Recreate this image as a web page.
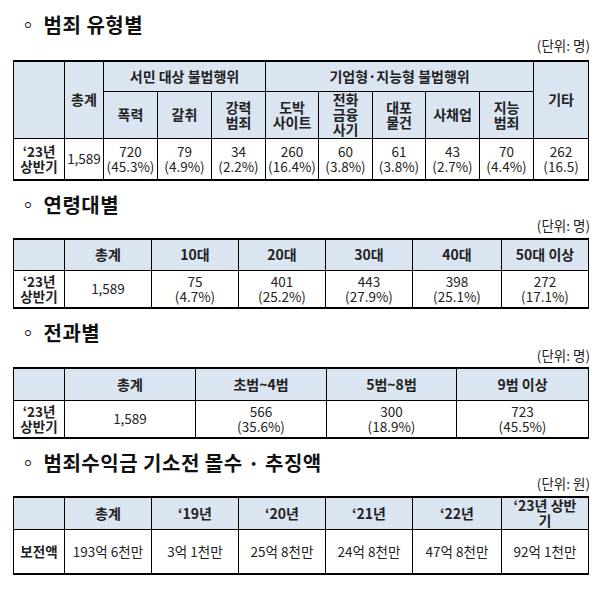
<!DOCTYPE html>
<html><head><meta charset="utf-8">
<script src="https://cdn.jsdelivr.net/npm/chart.js"></script>
<style>
body{margin:0;width:608px;height:605px;background:#fff;font-family:"Noto Sans CJK KR",sans-serif;position:relative;overflow:hidden}
.t{position:absolute;left:18px;font-size:20px;line-height:28px;font-weight:bold;color:#111;letter-spacing:0.5px}
.u{position:absolute;right:18px;font-size:13.5px;line-height:18px;color:#222}
table{position:absolute;left:13px;border-collapse:collapse;table-layout:fixed;border-top:2px solid #000;border-bottom:2px solid #000}
td{border:1px solid #000;text-align:center;vertical-align:middle;padding:0;font-size:13.5px;line-height:15px;color:#222}
td.h{background:#dbe5f1;font-weight:bold;color:#222;font-size:14px}
td.r{font-weight:bold}
</style></head><body>
<div class="t" style="top:11px">◦ 범죄 유형별</div><div class="u" style="top:36px">(단위: 명)</div>
<div class="t" style="top:191px">◦ 연령대별</div><div class="u" style="top:216px">(단위: 명)</div>
<div class="t" style="top:319px">◦ 전과별</div><div class="u" style="top:346px">(단위: 명)</div>
<div class="t" style="top:449px">◦ 범죄수익금 기소전 몰수 · 추징액</div><div class="u" style="top:474px">(단위: 원)</div>
<div id="root"></div>
<script>
const rowLabel = "‘23년<br>상반기";
const typeGroups = ["서민 대상 불법행위","기업형·지능형 불법행위"];
const typeCats = ["폭력","갈취","강력<br>범죄","도박<br>사이트","전화<br>금융<br>사기","대포<br>물건","사채업","지능<br>범죄"];
const typeValues = ["720<br>(45.3%)","79<br>(4.9%)","34<br>(2.2%)","260<br>(16.4%)","60<br>(3.8%)","61<br>(3.8%)","43<br>(2.7%)","70<br>(4.4%)"];
const typeTotal = "1,589", typeOther = "262<br>(16.5)";
const ageCats = ["총계","10대","20대","30대","40대","50대 이상"];
const ageValues = ["1,589","75<br>(4.7%)","401<br>(25.2%)","443<br>(27.9%)","398<br>(25.1%)","272<br>(17.1%)"];
const recCats = ["총계","초범~4범","5범~8범","9범 이상"];
const recValues = ["1,589","566<br>(35.6%)","300<br>(18.9%)","723<br>(45.5%)"];
const amtCats = ["총계","‘19년","‘20년","‘21년","‘22년","‘23년 상반<br>기"];
const amtValues = ["193억 6천만","3억 1천만","25억 8천만","24억 8천만","47억 8천만","92억 1천만"];

function cols(ws){return "<colgroup>"+ws.map(w=>`<col style="width:${w}px">`).join("")+"</colgroup>";}
const root=document.getElementById("root");
let h=`<table style="top:60px;width:575px">${cols([51,39,54,54,54,53,54,53,54,54,55])}`;
h+=`<tr style="height:30px"><td class="h" rowspan="2"></td><td class="h" rowspan="2">총계</td><td class="h" colspan="3">${typeGroups[0]}</td><td class="h" colspan="5">${typeGroups[1]}</td><td class="h" rowspan="2">기타</td></tr>`;
h+=`<tr style="height:47px">${typeCats.map(c=>`<td class="h">${c}</td>`).join("")}</tr>`;
h+=`<tr style="height:42px"><td class="r">${rowLabel}</td><td>${typeTotal}</td>${typeValues.map(v=>`<td>${v}</td>`).join("")}<td>${typeOther}</td></tr></table>`;
const w6=[51,87,87,87,87,89,87];
h+=`<table style="top:238px;width:575px">${cols(w6)}<tr style="height:31px"><td class="h"></td>${ageCats.map(c=>`<td class="h">${c}</td>`).join("")}</tr>`;
h+=`<tr style="height:38px"><td class="r">${rowLabel}</td>${ageValues.map(v=>`<td>${v}</td>`).join("")}</tr></table>`;
h+=`<table style="top:367px;width:575px">${cols([51,131,131,130,132])}<tr style="height:32px"><td class="h"></td>${recCats.map(c=>`<td class="h">${c}</td>`).join("")}</tr>`;
h+=`<tr style="height:38px"><td class="r">${rowLabel}</td>${recValues.map(v=>`<td>${v}</td>`).join("")}</tr></table>`;
h+=`<table style="top:496px;width:575px">${cols(w6)}<tr style="height:32px"><td class="h"></td>${amtCats.map(c=>`<td class="h">${c}</td>`).join("")}</tr>`;
h+=`<tr style="height:45px"><td class="r">보전액</td>${amtValues.map(v=>`<td>${v}</td>`).join("")}</tr></table>`;
root.innerHTML=h;
</script>
</body></html>
